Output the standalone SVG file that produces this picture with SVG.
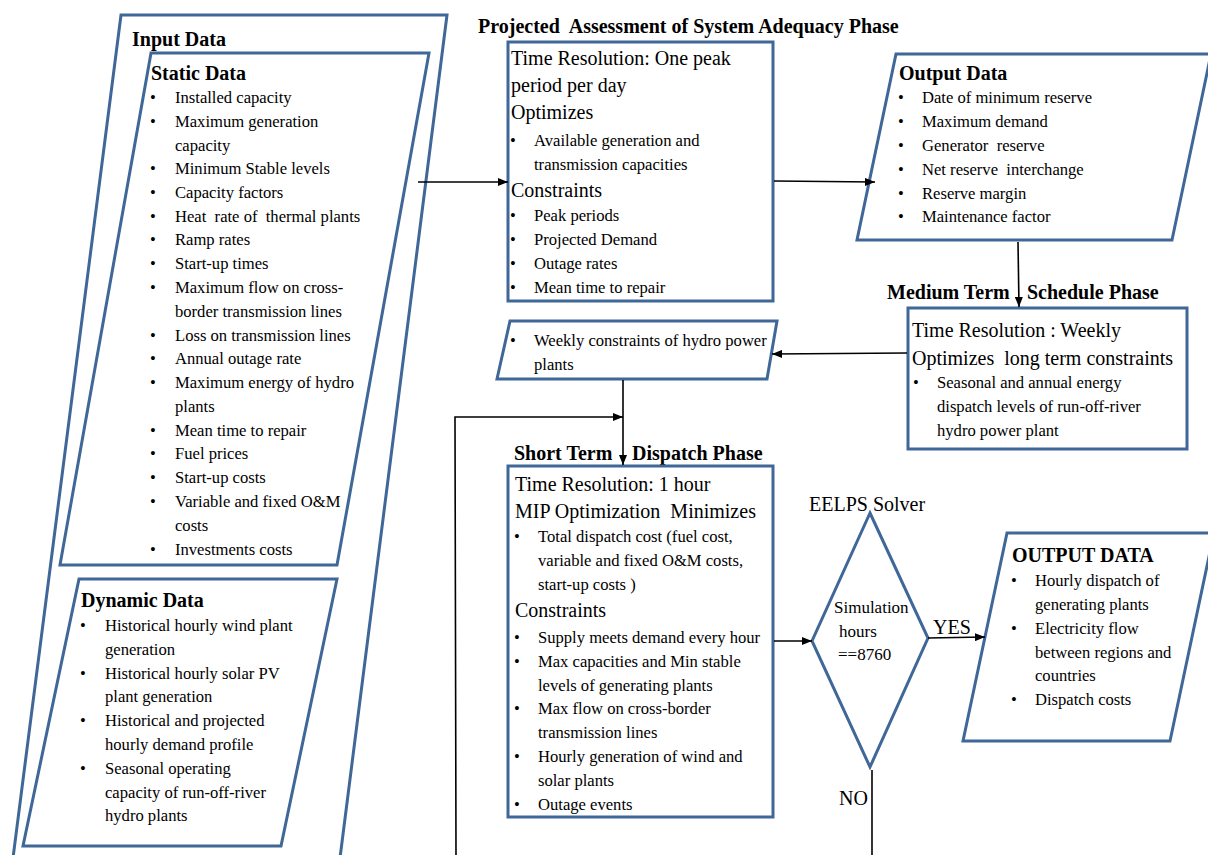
<svg xmlns="http://www.w3.org/2000/svg" width="1208" height="855" viewBox="0 0 1208 855">
<defs>
<marker id="ah" markerWidth="10" markerHeight="8" refX="10" refY="4" orient="auto" markerUnits="userSpaceOnUse">
<path d="M0,0 L10,4 L0,8 Z" fill="#000"/>
</marker>
<style>
.shape{fill:#fff;stroke:#3f6797;stroke-width:3;stroke-linejoin:miter}
.conn{fill:none;stroke:#000;stroke-width:1.6}
text{font-family:"Liberation Serif","Times New Roman",serif;fill:#000;white-space:pre}
.h{font-size:20px;font-weight:bold}
.b{font-size:16.6px}
.l{font-size:20px}
.m{font-size:17px}
</style>
</defs>
<rect width="1208" height="855" fill="#fff"/>

<g id="input-data">
<polygon class="shape" points="121,15 447,15 340,858 13,858"/>
<text class="h" x="132" y="46">Input Data</text>
</g>

<g id="static-data">
<polygon class="shape" points="151,53 429,53 337,565 60,565"/>
<text class="h" x="151" y="80">Static Data</text>
<text class="b" x="150" y="103">•</text><text class="b" x="175" y="103">Installed capacity</text>
<text class="b" x="150" y="127">•</text><text class="b" x="175" y="127">Maximum generation</text>
<text class="b" x="175" y="151">capacity</text>
<text class="b" x="150" y="174">•</text><text class="b" x="175" y="174">Minimum Stable levels</text>
<text class="b" x="150" y="198">•</text><text class="b" x="175" y="198">Capacity factors</text>
<text class="b" x="150" y="222">•</text><text class="b" x="175" y="222">Heat  rate of  thermal plants</text>
<text class="b" x="150" y="245">•</text><text class="b" x="175" y="245">Ramp rates</text>
<text class="b" x="150" y="269">•</text><text class="b" x="175" y="269">Start-up times</text>
<text class="b" x="150" y="293">•</text><text class="b" x="175" y="293">Maximum flow on cross-</text>
<text class="b" x="175" y="317">border transmission lines</text>
<text class="b" x="150" y="341">•</text><text class="b" x="175" y="341">Loss on transmission lines</text>
<text class="b" x="150" y="364">•</text><text class="b" x="175" y="364">Annual outage rate</text>
<text class="b" x="150" y="388">•</text><text class="b" x="175" y="388">Maximum energy of hydro</text>
<text class="b" x="175" y="412">plants</text>
<text class="b" x="150" y="436">•</text><text class="b" x="175" y="436">Mean time to repair</text>
<text class="b" x="150" y="459">•</text><text class="b" x="175" y="459">Fuel prices</text>
<text class="b" x="150" y="483">•</text><text class="b" x="175" y="483">Start-up costs</text>
<text class="b" x="150" y="507">•</text><text class="b" x="175" y="507">Variable and fixed O&amp;M</text>
<text class="b" x="175" y="531">costs</text>
<text class="b" x="150" y="555">•</text><text class="b" x="175" y="555">Investments costs</text>
</g>

<g id="dynamic-data">
<polygon class="shape" points="79,579 337,579 281,846 23,846"/>
<text class="h" x="81" y="607">Dynamic Data</text>
<text class="b" x="80" y="631">•</text><text class="b" x="105" y="631">Historical hourly wind plant</text>
<text class="b" x="105" y="655">generation</text>
<text class="b" x="80" y="679">•</text><text class="b" x="105" y="679">Historical hourly solar PV</text>
<text class="b" x="105" y="702">plant generation</text>
<text class="b" x="80" y="726">•</text><text class="b" x="105" y="726">Historical and projected</text>
<text class="b" x="105" y="750">hourly demand profile</text>
<text class="b" x="80" y="774">•</text><text class="b" x="105" y="774">Seasonal operating</text>
<text class="b" x="105" y="798">capacity of run-off-river</text>
<text class="b" x="105" y="821">hydro plants</text>
</g>

<g id="pasa-phase">
<text class="h" x="478" y="33">Projected  Assessment of System Adequacy Phase</text>
<rect class="shape" x="508" y="42" width="265" height="259"/>
<text class="l" x="511" y="65">Time Resolution: One peak</text>
<text class="l" x="511" y="92">period per day</text>
<text class="l" x="511" y="119">Optimizes</text>
<text class="b" x="510" y="146">•</text><text class="b" x="534" y="146">Available generation and</text>
<text class="b" x="534" y="170">transmission capacities</text>
<text class="l" x="511" y="197">Constraints</text>
<text class="b" x="510" y="221">•</text><text class="b" x="534" y="221">Peak periods</text>
<text class="b" x="510" y="245">•</text><text class="b" x="534" y="245">Projected Demand</text>
<text class="b" x="510" y="269">•</text><text class="b" x="534" y="269">Outage rates</text>
<text class="b" x="510" y="293">•</text><text class="b" x="534" y="293">Mean time to repair</text>
</g>

<g id="output-data-pasa">
<polygon class="shape" points="896,54 1211,54 1172,240 857,240"/>
<text class="h" x="899" y="80">Output Data</text>
<text class="b" x="898" y="103">•</text><text class="b" x="922" y="103">Date of minimum reserve</text>
<text class="b" x="898" y="127">•</text><text class="b" x="922" y="127">Maximum demand</text>
<text class="b" x="898" y="151">•</text><text class="b" x="922" y="151">Generator  reserve</text>
<text class="b" x="898" y="175">•</text><text class="b" x="922" y="175">Net reserve  interchange</text>
<text class="b" x="898" y="199">•</text><text class="b" x="922" y="199">Reserve margin</text>
<text class="b" x="898" y="222">•</text><text class="b" x="922" y="222">Maintenance factor</text>
</g>

<g id="medium-term">
<text class="h" x="887" y="299">Medium Term<tspan x="1027">Schedule Phase</tspan></text>
<rect class="shape" x="908" y="308" width="279" height="141"/>
<text class="l" x="912" y="337">Time Resolution : Weekly</text>
<text class="l" x="912" y="365">Optimizes  long term constraints</text>
<text class="b" x="913" y="388">•</text><text class="b" x="937" y="388">Seasonal and annual energy</text>
<text class="b" x="937" y="412">dispatch levels of run-off-river</text>
<text class="b" x="937" y="436">hydro power plant</text>
</g>

<g id="weekly-constraints">
<polygon class="shape" points="510,321 777,321 767,379 497,379"/>
<text class="b" x="510" y="346">•</text><text class="b" x="534" y="346">Weekly constraints of hydro power</text>
<text class="b" x="534" y="370">plants</text>
</g>

<g id="short-term">
<text class="h" x="514" y="460">Short Term<tspan x="632">Dispatch Phase</tspan></text>
<rect class="shape" x="508" y="466" width="265" height="351"/>
<text class="l" x="515" y="491">Time Resolution: 1 hour</text>
<text class="l" x="515" y="518">MIP Optimization  Minimizes</text>
<text class="b" x="514" y="542">•</text><text class="b" x="538" y="542">Total dispatch cost (fuel cost,</text>
<text class="b" x="538" y="566">variable and fixed O&amp;M costs,</text>
<text class="b" x="538" y="590">start-up costs )</text>
<text class="l" x="515" y="617">Constraints</text>
<text class="b" x="514" y="643">•</text><text class="b" x="538" y="643">Supply meets demand every hour</text>
<text class="b" x="514" y="667">•</text><text class="b" x="538" y="667">Max capacities and Min stable</text>
<text class="b" x="538" y="691">levels of generating plants</text>
<text class="b" x="514" y="714">•</text><text class="b" x="538" y="714">Max flow on cross-border</text>
<text class="b" x="538" y="738">transmission lines</text>
<text class="b" x="514" y="762">•</text><text class="b" x="538" y="762">Hourly generation of wind and</text>
<text class="b" x="538" y="786">solar plants</text>
<text class="b" x="514" y="810">•</text><text class="b" x="538" y="810">Outage events</text>
</g>

<g id="solver">
<text class="l" x="809" y="511">EELPS Solver</text>
<polygon class="shape" points="870,513 928,638 870,767 812,641"/>
<text class="m" x="834" y="613">Simulation</text>
<text class="m" x="839" y="637">hours</text>
<text class="m" x="838" y="660">==8760</text>
</g>

<g id="output-data-dispatch">
<polygon class="shape" points="1007,533 1214,533 1170,741 963,741"/>
<text class="h" x="1012" y="562">OUTPUT DATA</text>
<text class="b" x="1011" y="586">•</text><text class="b" x="1035" y="586">Hourly dispatch of</text>
<text class="b" x="1035" y="610">generating plants</text>
<text class="b" x="1011" y="634">•</text><text class="b" x="1035" y="634">Electricity flow</text>
<text class="b" x="1035" y="658">between regions and</text>
<text class="b" x="1035" y="681">countries</text>
<text class="b" x="1011" y="705">•</text><text class="b" x="1035" y="705">Dispatch costs</text>
</g>

<g id="connectors">
<line class="conn" x1="418" y1="182" x2="508" y2="182" marker-end="url(#ah)"/>
<line class="conn" x1="774" y1="181" x2="875" y2="182" marker-end="url(#ah)"/>
<line class="conn" x1="1018" y1="242" x2="1019" y2="307" marker-end="url(#ah)"/>
<line class="conn" x1="907" y1="353" x2="772" y2="354" marker-end="url(#ah)"/>
<line class="conn" x1="623" y1="380" x2="623" y2="465" marker-end="url(#ah)"/>
<polyline class="conn" points="456,855 455,417 623,417" marker-end="url(#ah)"/>
<line class="conn" x1="774" y1="641" x2="812" y2="641" marker-end="url(#ah)"/>
<line class="conn" x1="928" y1="638" x2="985" y2="637" marker-end="url(#ah)"/>
<text class="l" x="933" y="634">YES</text>
<line class="conn" x1="872" y1="770" x2="872" y2="855"/>
<text class="l" x="839" y="805">NO</text>
</g>
</svg>
